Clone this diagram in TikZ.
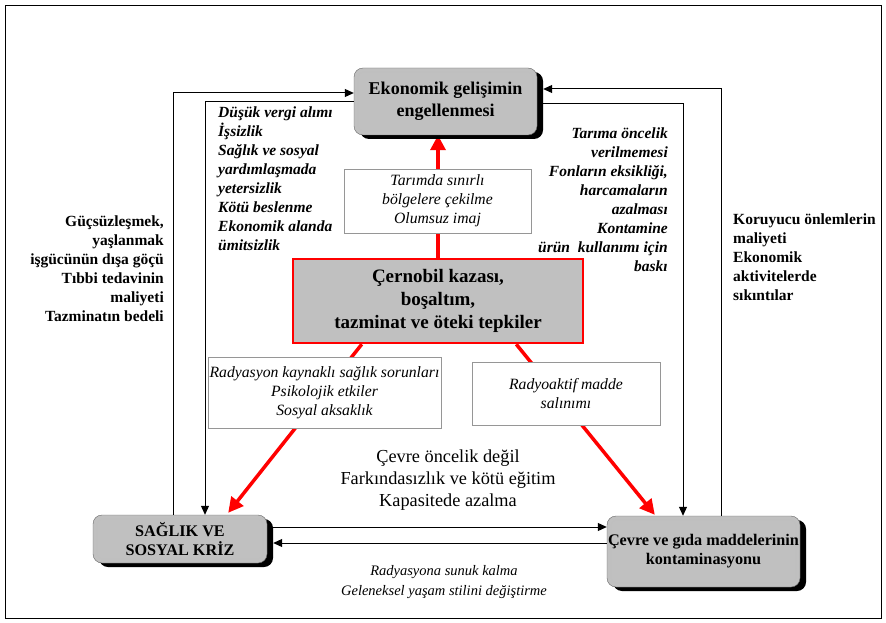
\documentclass[tikz,border=0pt]{standalone}
\usepackage{fontspec}
\setmainfont{Liberation Serif}
\usetikzlibrary{arrows.meta,shadows,calc}
\pgfdeclarelayer{bg}
\pgfsetlayers{bg,main}
\definecolor{boxgray}{RGB}{192,192,192}
\definecolor{linegray}{RGB}{150,150,150}
\begin{document}
\begin{tikzpicture}[x=1pt,y=-1pt,
  graybox/.style={draw=black!60, fill=boxgray, rounded corners=9pt,
    drop shadow={shadow xshift=6pt, shadow yshift=-4pt, fill=black, opacity=1},
    path picture={\draw[draw=black!25, line width=0.6pt, rounded corners=6pt]
      ([xshift=4pt,yshift=-4pt]path picture bounding box.north west) rectangle
      ([xshift=-4pt,yshift=4pt]path picture bounding box.south east);},
    font=\bfseries\fontsize{16.2}{19}\selectfont, align=center, inner sep=0pt},
  mainbox/.style={draw=red, line width=2.5pt, fill=boxgray, align=center, inner sep=0pt,
    font=\bfseries\fontsize{19}{23}\selectfont},
  labbox/.style={draw=linegray, line width=0.8pt, fill=white, align=center, inner sep=0pt,
    font=\itshape\fontsize{15.7}{19}\selectfont},
  sidebi/.style={inner sep=0pt, font=\bfseries\itshape\fontsize{15.5}{19}\selectfont},
  sideb/.style={inner sep=0pt, font=\bfseries\fontsize{15.5}{19}\selectfont},
  redarr/.style={draw=red, line width=3.5pt, -{Triangle[length=15pt,width=15pt]}},
  blkarr/.style={draw=black, line width=1pt, -{Triangle[length=9pt,width=8pt]}},
]
\useasboundingbox (0,0) rectangle (886,623);
\draw[line width=0.8pt] (5,5) rectangle (881,618);

% boxes
\node[graybox, minimum width=183pt, minimum height=67pt, font=\bfseries\fontsize{18}{22}\selectfont] (eco) at (445.5,101.5)
  {Ekonomik gelişimin\\engellenmesi};
\node[mainbox, minimum width=290pt, minimum height=84pt] (cer) at (438,301)
  {Çernobil kazası,\\boşaltım,\\tazminat ve öteki tepkiler};
\node[labbox, minimum width=187pt, minimum height=64pt] (tar) at (437.5,201)
  {Tarımda sınırlı\\bölgelere çekilme\\Olumsuz imaj};
\node[labbox, minimum width=233pt, minimum height=71pt] (rad) at (324.5,392.5)
  {Radyasyon kaynaklı sağlık sorunları\\Psikolojik etkiler\\Sosyal aksaklık};
\node[labbox, minimum width=188pt, minimum height=63pt] (rmad) at (566,393.5)
  {Radyoaktif madde\\salınımı};
\node[graybox, minimum width=174pt, minimum height=48pt] (sag) at (180,539)
  {SAĞLIK VE\\SOSYAL KRİZ};
\node[graybox, minimum width=193pt, minimum height=71pt] (cev) at (703.5,551.5)
  {Çevre ve gıda maddelerinin\\kontaminasyonu};

% side texts
\node[sidebi, anchor=west, align=left] (tl) at (218,179)
  {Düşük vergi alımı\\İşsizlik\\Sağlık ve sosyal\\yardımlaşmada\\yetersizlik\\Kötü beslenme\\Ekonomik alanda\\ümitsizlik};
\node[sidebi, anchor=east, align=right] (tr) at (668,199.5)
  {Tarıma öncelik\\verilmemesi\\Fonların eksikliği,\\harcamaların\\azalması\\Kontamine\\ürün\ \ kullanımı için\\baskı};
\node[sideb, anchor=east, align=right] (ll) at (164,268.5)
  {Güçsüzleşmek,\\yaşlanmak\\işgücünün dışa göçü\\Tıbbi tedavinin\\maliyeti\\Tazminatın bedeli};
\node[sideb, anchor=west, align=left] (rr) at (733,257)
  {Koruyucu önlemlerin\\maliyeti\\Ekonomik\\aktivitelerde\\sıkıntılar};
\node[inner sep=0pt, align=center, font=\fontsize{18.3}{22}\selectfont] (mid) at (448,480)
  {Çevre öncelik değil\\Farkındasızlık ve kötü eğitim\\Kapasitede azalma};
\node[inner sep=0pt, align=center, font=\itshape\fontsize{14.5}{20}\selectfont] (bot) at (444,582)
  {Radyasyona sunuk kalma\\Geleneksel yaşam stilini değiştirme};

% connectors
\coordinate (la) at (173,93);
\coordinate (lb) at (205,102);
\coordinate (ra) at (721,89);
\coordinate (rb) at (683,104);
\coordinate (ba) at (0,527);
\coordinate (bb) at (0,543);
\begin{pgfonlayer}{bg}
  \draw[redarr] (cer.north) -- (cer.north |- eco.south);
  \draw[redarr] ($(cer.south west)+(70,0)$) -- ($(sag.north east)+(-39,-2)$);
  \draw[redarr] ($(cer.south east)+(-68,0)$) -- ($(cev.north west)+(48,-1)$);
\end{pgfonlayer}
\draw[blkarr] (sag.north -| la) -- (la) -- (eco.west |- la);
\draw[blkarr] (eco.west |- lb) -- (lb) -- (sag.north -| lb);
\draw[blkarr] (cev.north -| ra) -- (ra) -- ($(eco.east |- ra)+(6,0)$);
\draw[blkarr] ($(eco.east |- rb)+(6,0)$) -- (rb) -- (cev.north -| rb);
\draw[blkarr] ($(sag.east |- ba)+(6,0)$) -- (cev.west |- ba);
\draw[blkarr] (cev.west |- bb) -- ($(sag.east |- bb)+(6,0)$);
\end{tikzpicture}
\end{document}
